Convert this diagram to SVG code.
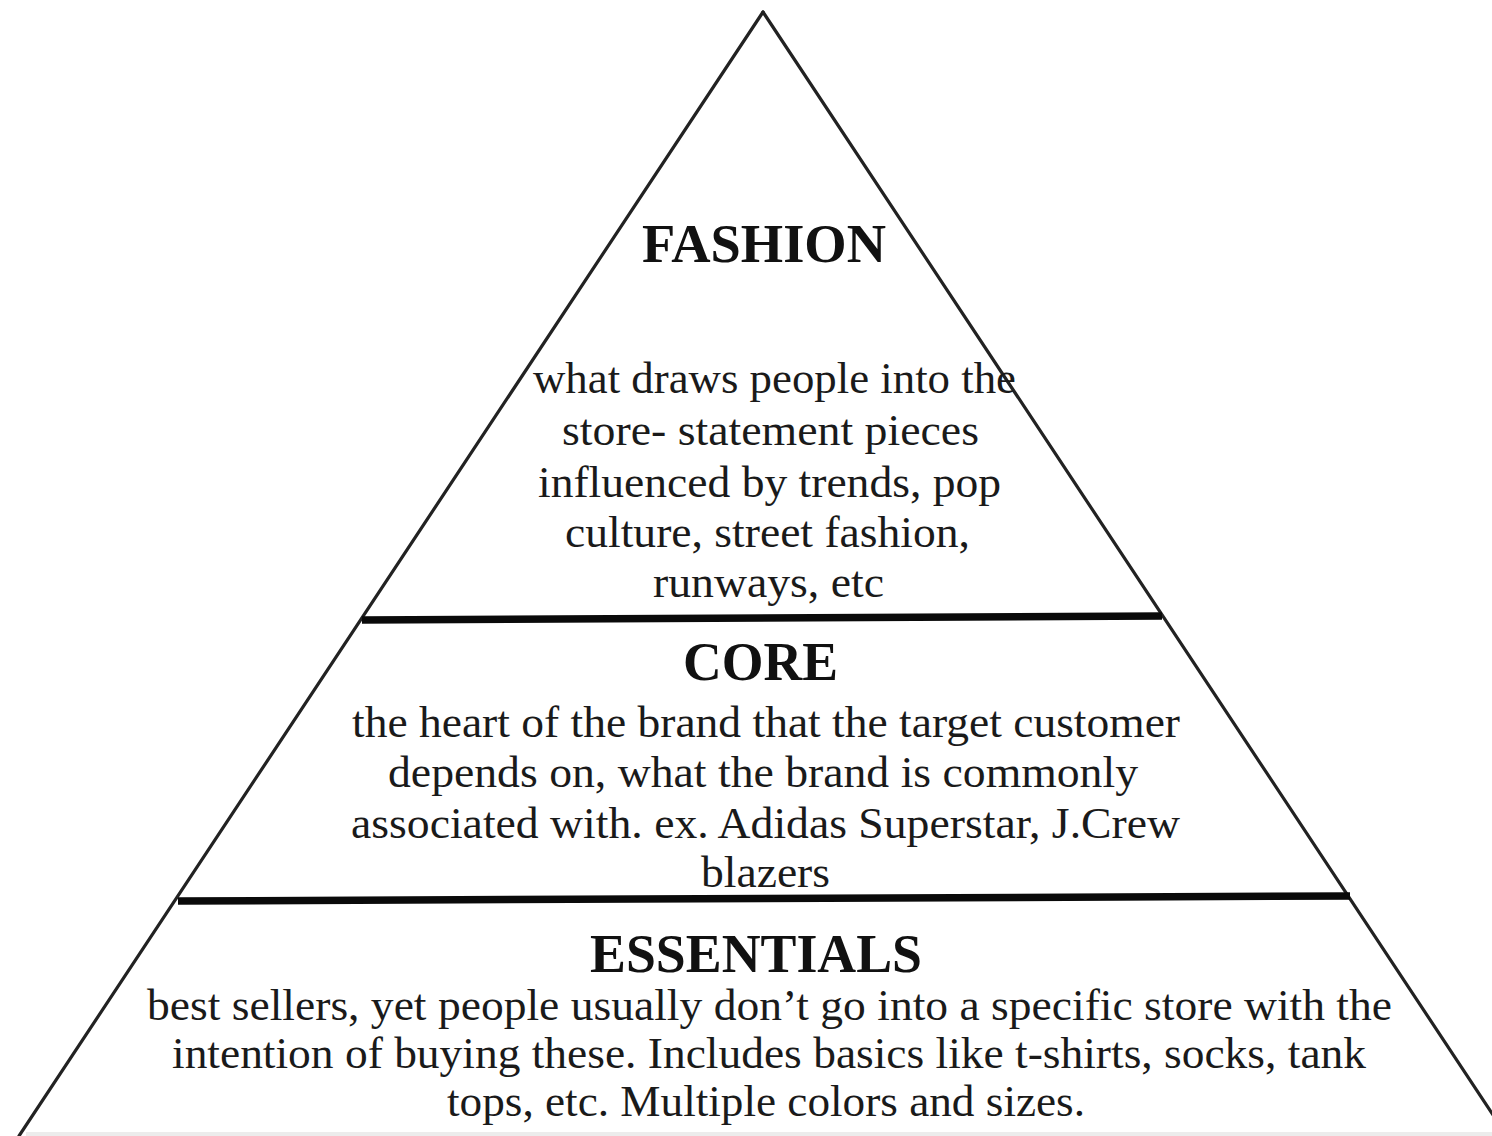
<svg xmlns="http://www.w3.org/2000/svg" width="1492" height="1136" viewBox="0 0 1492 1136">
  <style>
    .edge { stroke: #222222; stroke-width: 3.2; fill: none; stroke-linecap: round; }
    .divider { stroke: #0a0a0a; stroke-width: 7.5; fill: none; }
    .title { font-family: "Liberation Serif", "Times New Roman", serif; font-weight: bold; font-size: 54px; fill: #111; }
    .body { font-family: "Liberation Serif", "Times New Roman", serif; font-size: 45px; fill: #1a1a1a; }
  </style>
  <rect x="0" y="0" width="1492" height="1136" fill="#ffffff"/>
  <rect x="26" y="1132" width="1466" height="4" fill="#ececec"/>

  <g id="pyramid-outline">
    <line class="edge" x1="763" y1="12" x2="19" y2="1136"/>
    <line class="edge" x1="763" y1="12" x2="1507" y2="1136"/>
  </g>

  <g id="connectors">
    <line class="divider" x1="362" y1="620" x2="1162" y2="616"/>
    <line class="divider" x1="178" y1="901" x2="1350" y2="896"/>
  </g>

  <g id="fashion">
    <text class="title" x="642" y="262" textLength="244" lengthAdjust="spacingAndGlyphs">FASHION</text>
    <text class="body" x="533" y="393" textLength="483" lengthAdjust="spacingAndGlyphs">what draws people into the</text>
    <text class="body" x="562" y="445" textLength="417" lengthAdjust="spacingAndGlyphs">store- statement pieces</text>
    <text class="body" x="538" y="497" textLength="463" lengthAdjust="spacingAndGlyphs">influenced by trends, pop</text>
    <text class="body" x="565" y="547" textLength="405" lengthAdjust="spacingAndGlyphs">culture, street fashion,</text>
    <text class="body" x="653" y="597" textLength="231" lengthAdjust="spacingAndGlyphs">runways, etc</text>
  </g>

  <g id="core">
    <text class="title" x="683" y="680" textLength="155" lengthAdjust="spacingAndGlyphs">CORE</text>
    <text class="body" x="352" y="737" textLength="828" lengthAdjust="spacingAndGlyphs">the heart of the brand that the target customer</text>
    <text class="body" x="388" y="787" textLength="750" lengthAdjust="spacingAndGlyphs">depends on, what the brand is commonly</text>
    <text class="body" x="351" y="838" textLength="829" lengthAdjust="spacingAndGlyphs">associated with. ex. Adidas Superstar, J.Crew</text>
    <text class="body" x="701" y="887" textLength="129" lengthAdjust="spacingAndGlyphs">blazers</text>
  </g>

  <g id="essentials">
    <text class="title" x="590" y="972" textLength="332" lengthAdjust="spacingAndGlyphs">ESSENTIALS</text>
    <text class="body" x="147" y="1020" textLength="1245" lengthAdjust="spacingAndGlyphs">best sellers, yet people usually don’t go into a specific store with the</text>
    <text class="body" x="172" y="1068" textLength="1194" lengthAdjust="spacingAndGlyphs">intention of buying these. Includes basics like t-shirts, socks, tank</text>
    <text class="body" x="447" y="1116" textLength="638" lengthAdjust="spacingAndGlyphs">tops, etc. Multiple colors and sizes.</text>
  </g>
</svg>
